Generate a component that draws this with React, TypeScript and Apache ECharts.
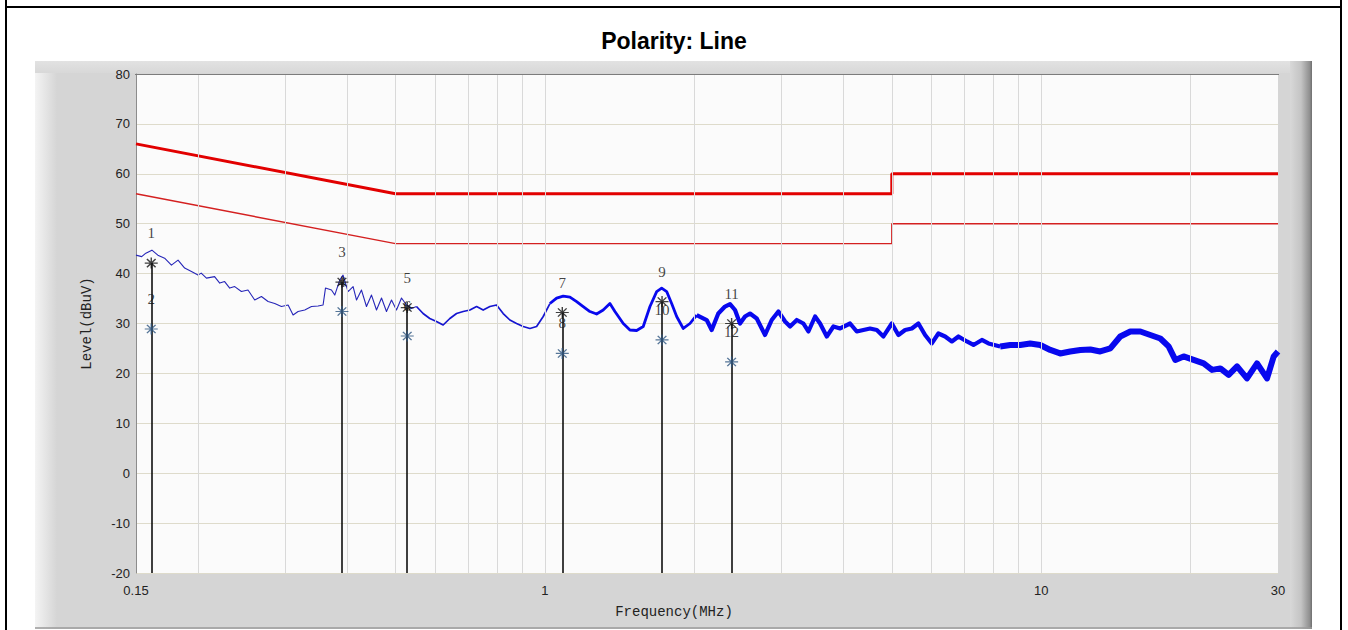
import React, { useEffect, useRef } from 'react';
import * as echarts from 'echarts';

// Measured spectrum trace (frequency in MHz, level in dBuV)
const traceFreq = [0.15, 0.154, 0.157, 0.1615, 0.166, 0.1713, 0.1768, 0.1823, 0.188, 0.194, 0.2, 0.203, 0.208, 0.216, 0.2212, 0.2263, 0.2317, 0.2371, 0.2446, 0.2522, 0.2602, 0.2684, 0.2768, 0.2855, 0.2945, 0.3038, 0.3109, 0.3182, 0.3282, 0.3386, 0.3491, 0.3573, 0.3613, 0.3715, 0.3772, 0.386, 0.392, 0.4012, 0.4107, 0.4173, 0.427, 0.437, 0.4473, 0.4578, 0.4686, 0.4795, 0.4908, 0.5023, 0.5141, 0.5261, 0.5385, 0.5511, 0.5683, 0.5862, 0.6047, 0.6237, 0.6434, 0.6637, 0.6845, 0.7061, 0.7284, 0.751, 0.7747, 0.7991, 0.824, 0.85, 0.8768, 0.9042, 0.9328, 0.9622, 0.9922, 1.0235, 1.0558, 1.0887, 1.1231, 1.1586, 1.1945, 1.2322, 1.2711, 1.3106, 1.352, 1.3838, 1.4383, 1.4837, 1.5306, 1.5782, 1.6281, 1.6795, 1.719, 1.7594, 1.8004, 1.8428, 1.9001, 1.9601, 2.0221, 2.1184, 2.168, 2.2354, 2.306, 2.3605, 2.416, 2.4723, 2.5305, 2.5901, 2.672, 2.7768, 2.8642, 2.9541, 3.0474, 3.1189, 3.2176, 3.3176, 3.3956, 3.5028, 3.5845, 3.6978, 3.8137, 3.9341, 4.1199, 4.25, 4.3822, 4.5206, 4.664, 4.8092, 5.0003, 5.1558, 5.3183, 5.4864, 5.6569, 5.8352, 6.0194, 6.2063, 6.4035, 6.6069, 6.8124, 7.0829, 7.3035, 7.5944, 7.8307, 8.2659, 8.6596, 9.0722, 9.5018, 9.954, 10.43, 10.92, 11.44, 11.99, 12.56, 13.15, 13.78, 14.43, 15.12, 15.84, 16.59, 17.38, 18.06, 18.63, 19.36, 20.28, 21.25, 22.09, 22.96, 23.86, 24.81, 25.98, 27.22, 28.51, 29.41, 30];
const traceLevel = [43.7, 43.4, 44.1, 44.7, 43.7, 43.1, 41.7, 42.7, 41.1, 40.4, 39.7, 40.1, 39.1, 39.4, 38.1, 38.4, 37.1, 37.4, 36.4, 36.7, 34.7, 35.4, 34.4, 34.0, 33.4, 33.7, 31.7, 32.4, 32.7, 33.4, 33.5, 33.7, 37.1, 36.7, 35.7, 38.7, 39.7, 36.4, 37.4, 34.7, 36.7, 33.4, 35.7, 32.7, 35.1, 32.4, 34.7, 32.7, 35.1, 33.7, 33.0, 33.4, 32.0, 31.0, 30.4, 29.7, 31.0, 32.0, 32.4, 32.7, 33.4, 32.7, 33.4, 33.7, 32.0, 30.7, 30.0, 29.4, 29.0, 29.4, 31.4, 34.0, 35.1, 35.5, 35.3, 34.4, 33.4, 32.4, 31.9, 32.7, 34.0, 32.4, 30.0, 28.7, 28.6, 29.4, 33.4, 36.4, 37.1, 36.4, 34.0, 31.4, 29.0, 30.0, 31.7, 30.7, 28.7, 32.0, 33.4, 33.9, 32.7, 30.0, 31.4, 32.0, 31.0, 27.7, 30.7, 32.4, 30.4, 29.4, 30.7, 30.0, 28.4, 31.4, 30.0, 27.4, 29.4, 29.0, 30.0, 28.4, 28.7, 29.0, 28.7, 27.4, 30.0, 27.7, 28.7, 29.0, 30.0, 27.7, 26.0, 28.0, 27.4, 26.4, 27.4, 26.4, 25.7, 26.7, 26.0, 25.4, 25.7, 25.7, 26.0, 25.7, 24.7, 24.0, 24.4, 24.7, 24.8, 24.4, 25.0, 27.4, 28.4, 28.4, 27.7, 27.0, 25.4, 22.7, 23.4, 22.7, 22.0, 20.7, 21.0, 19.7, 21.4, 19.0, 22.0, 19.0, 23.4, 24.4];

// Limit lines
const qpLimitFreq = [0.15, 0.5, 5, 5, 30];
const qpLimitLevel = [66, 56, 56, 60, 60];
const avLimitFreq = [0.15, 0.5, 5, 5, 30];
const avLimitLevel = [56, 46, 46, 50, 50];

// Markers
const markerFreq = [0.161, 0.39, 0.528, 1.084, 1.722, 2.378];
const markerQP = [42.1, 38.3, 33.2, 32.2, 34.4, 30.0];
const markerAV = [28.9, 32.4, 27.5, 24.0, 26.7, 22.3];
const qpLabels = ['1', '3', '5', '7', '9', '11'];
const avLabels = ['2', '4', '6', '8', '10', '12'];

// Axis
const gridFreqs = [0.2, 0.3, 0.4, 0.5, 0.6, 0.7, 0.8, 0.9, 1, 2, 3, 4, 5, 6, 7, 8, 9, 10, 20];
const xMin = 0.15;
const xMax = 30;
const yMin = -20;
const yMax = 80;
const yStep = 10;

const STAR = 'path://M0,6L12,6M2,1.5L10,10.5M10,1.5L2,10.5M6,0L6,12';

function segment(lo: number, hi: number) {
  const n = Math.min(traceFreq.length, traceLevel.length);
  const out: number[][] = [];
  for (let i = 0; i < n; i++) {
    const f = traceFreq[i];
    const prevIn = i > 0 && traceFreq[i - 1] >= lo && traceFreq[i - 1] < hi;
    if ((f >= lo && f < hi) || prevIn) out.push([f, traceLevel[i]]);
  }
  return out;
}

export default function App() {
  const ref = useRef<HTMLDivElement>(null);
  useEffect(() => {
    if (!ref.current) return;
    const chart = echarts.init(ref.current, undefined, { renderer: 'svg' });
    const traceColor = '#0808ee';
    const traceSegs = [
      { lo: 0.15, hi: 0.55, w: 1.1, c: '#2626b8' },
      { lo: 0.55, hi: 1.0, w: 1.7, c: '#1515d0' },
      { lo: 1.0, hi: 2.0, w: 2.8, c: traceColor },
      { lo: 2.0, hi: 8.0, w: 4.2, c: traceColor },
      { lo: 8.0, hi: 31, w: 6, c: traceColor },
    ];
    const labelStyle = {
      show: true,
      position: 'inside',
      offset: [0, -30],
      formatter: '{b}',
      color: '#111',
      textBorderWidth: 0,
      textBorderColor: 'transparent',
      fontSize: 15,
      fontFamily: 'Liberation Serif, serif',
    };
    const option: any = {
      animation: false,
      backgroundColor: '#ffffff',
      title: {
        text: 'Polarity: Line',
        left: 'center',
        top: 24,
        textStyle: { fontFamily: 'Liberation Sans, Arial', fontWeight: 'bold', fontSize: 23, color: '#000' },
      },
      grid: {
        left: 136,
        right: 70,
        top: 74,
        bottom: 57,
        show: true,
        backgroundColor: '#fbfbfb',
        borderWidth: 0,
      },
      xAxis: {
        type: 'log',
        logBase: 10,
        min: xMin,
        max: xMax,
        axisLine: { show: false },
        axisTick: { show: false },
        splitLine: { show: false },
        axisLabel: {
          margin: 11,
          color: '#222',
          fontSize: 13,
          fontFamily: 'Liberation Sans, Arial',
          formatter: (v: number) => String(+Number(v).toPrecision(3)),
        },
      },
      yAxis: {
        type: 'value',
        min: yMin,
        max: yMax,
        interval: yStep,
        name: 'Level(dBuV)',
        nameLocation: 'middle',
        nameGap: 42,
        nameRotate: 90,
        nameTextStyle: { fontFamily: '"Liberation Mono", monospace', fontSize: 14, color: '#222' },
        axisLine: { show: true, lineStyle: { color: '#8c8c8c', width: 1 } },
        axisTick: { show: false },
        axisLabel: { margin: 6, color: '#222', fontSize: 13, fontFamily: 'Liberation Sans, Arial' },
        splitLine: { show: true, lineStyle: { color: '#dedbcb', width: 1 } },
      },
      graphic: [
        // outer frame
        { type: 'line', z: -100, shape: { x1: 6, y1: 0, x2: 6, y2: 630 }, style: { stroke: '#000', lineWidth: 2 } },
        { type: 'line', z: -100, shape: { x1: 1341, y1: 0, x2: 1341, y2: 630 }, style: { stroke: '#000', lineWidth: 2 } },
        { type: 'line', z: -100, shape: { x1: 6, y1: 7, x2: 1341, y2: 7 }, style: { stroke: '#000', lineWidth: 2 } },
        // gray panel
        { type: 'rect', z: -100, shape: { x: 35, y: 61, width: 1277, height: 568 }, style: { fill: '#d5d5d5' } },
        {
          type: 'rect', z: -99, shape: { x: 35, y: 61, width: 22, height: 568 },
          style: { fill: new echarts.graphic.LinearGradient(0, 0, 1, 0, [{ offset: 0, color: '#f4f4f4' }, { offset: 1, color: '#d5d5d5' }]) },
        },
        {
          type: 'rect', z: -99, shape: { x: 35, y: 61, width: 1277, height: 12 },
          style: { fill: new echarts.graphic.LinearGradient(0, 0, 0, 1, [{ offset: 0, color: '#e2e2e2' }, { offset: 1, color: '#d8d8d8' }]) },
        },
        {
          type: 'rect', z: -98, shape: { x: 1290, y: 61, width: 22, height: 568 },
          style: { fill: new echarts.graphic.LinearGradient(0, 0, 1, 0, [{ offset: 0, color: '#d8d8d8' }, { offset: 0.5, color: '#c4c4c4' }, { offset: 0.9, color: '#8e8e8e' }, { offset: 1, color: '#6e6e6e' }]) },
        },
        { type: 'line', z: -97, shape: { x1: 35, y1: 628, x2: 1312, y2: 628 }, style: { stroke: '#9a9a9a', lineWidth: 1.5 } },
        // plot top border
        { type: 'line', z: 50, shape: { x1: 135, y1: 74.5, x2: 1279, y2: 74.5 }, style: { stroke: '#7c7c7c', lineWidth: 1.2 } },
        // x axis name
        {
          type: 'text', z: 50, x: 674, y: 612,
          style: { text: 'Frequency(MHz)', fill: '#222', font: '14px "Liberation Mono", monospace', textAlign: 'center', textVerticalAlign: 'middle' },
        },
      ],
      series: [
        {
          type: 'line',
          data: [],
          silent: true,
          z: 1,
          markLine: {
            silent: true,
            symbol: 'none',
            label: { show: false },
            lineStyle: { color: '#d9d9d9', width: 1, type: 'solid' },
            data: gridFreqs.map((f) => ({ xAxis: f })),
          },
        },
        {
          type: 'line',
          z: 3,
          showSymbol: false,
          silent: true,
          data: qpLimitFreq.map((f, i) => [f, qpLimitLevel[i]]),
          lineStyle: { color: '#e20000', width: 3 },
        },
        {
          type: 'line',
          z: 3,
          showSymbol: false,
          silent: true,
          data: avLimitFreq.map((f, i) => [f, avLimitLevel[i]]),
          lineStyle: { color: '#d42020', width: 1.4 },
        },
        ...traceSegs.map((s) => ({
          type: 'line',
          z: 4,
          showSymbol: false,
          silent: true,
          data: segment(s.lo, s.hi),
          lineStyle: { color: s.c, width: s.w, join: 'round' },
        })),
        {
          type: 'line',
          data: [],
          silent: true,
          z: 5,
          markLine: {
            silent: true,
            symbol: 'none',
            label: { show: false },
            lineStyle: { color: '#000', width: 1.5, type: 'solid' },
            data: markerFreq.map((f, i) => [{ coord: [f, yMin] }, { coord: [f, markerQP[i]] }]),
          },
        },
        {
          type: 'scatter',
          z: 6,
          silent: true,
          symbol: STAR,
          symbolSize: [13, 11],
          itemStyle: { color: 'rgba(0,0,0,0)', borderColor: '#2d5580', borderWidth: 1.3 },
          label: labelStyle,
          data: markerFreq.map((f, i) => ({ name: avLabels[i], value: [f, markerAV[i]] })),
        },
        {
          type: 'scatter',
          z: 7,
          silent: true,
          symbol: STAR,
          symbolSize: [13, 11],
          itemStyle: { color: 'rgba(0,0,0,0)', borderColor: '#111', borderWidth: 1.3 },
          label: labelStyle,
          data: markerFreq.map((f, i) => ({ name: qpLabels[i], value: [f, markerQP[i]] })),
        },
      ],
    };
    chart.setOption(option);
    return () => chart.dispose();
  }, []);
  return (
    <div
      ref={ref}
      style={{ position: 'absolute', left: 0, top: 0, width: 1348, height: 630 }}
    />
  );
}
